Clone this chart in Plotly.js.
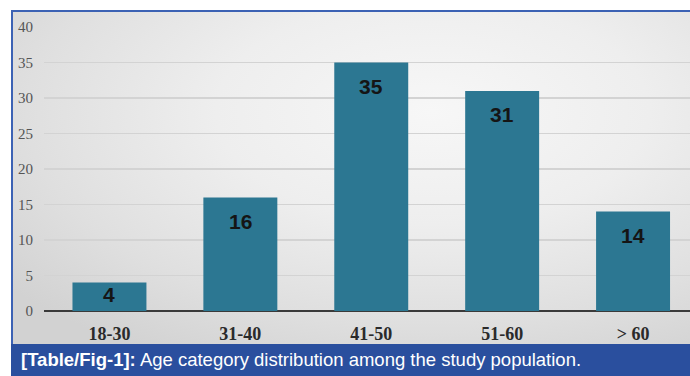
<!DOCTYPE html>
<html>
<head>
<meta charset="utf-8">
<script src="https://cdn.plot.ly/plotly-3.0.1.min.js"></script>
<style>
  html, body { margin: 0; padding: 0; width: 690px; height: 376px; overflow: hidden; background: #ffffff; }
  #frame { position: absolute; left: 11px; top: 10px; width: 677px; height: 332px;
    border-left: 2px solid #3c62b4; border-top: 2px solid #3c62b4;
    background: radial-gradient(ellipse 80% 85% at 62% 30%, #f7f7f7 0%, #eeeeee 40%, #dfdfdf 75%, #d2d2d2 100%); }
  #chart { position: absolute; left: 0; top: 0; width: 690px; height: 344px; }
  #caption { position: absolute; left: 11px; top: 344px; width: 679px; height: 32px;
    background: #2a4f9e; color: #ffffff; font-family: "Liberation Sans", Arial, sans-serif;
    font-size: 18.5px; line-height: 32px; padding-left: 10px; box-sizing: border-box; white-space: nowrap; }
  #caption b { font-weight: bold; }
</style>
</head>
<body>
<div id="frame"></div>
<div id="chart"></div>
<div id="caption"><b>[Table/Fig-1]:</b> Age category distribution among the study population.</div>
<script>
const categories = ["18-30", "31-40", "41-50", "51-60", "> 60"];
const counts = [4, 16, 35, 31, 14];
const yTicks = [0, 5, 10, 15, 20, 25, 30, 35, 40];

const pxPerUnit = (311 - 27) / 40;
const annotations = counts.map((v, i) => ({
  x: i, y: v, xref: 'x', yref: 'y', text: String(v), showarrow: false,
  yanchor: 'middle', yshift: -Math.min(24, v * pxPerUnit / 2 - 2),
  font: { family: '"Liberation Sans", Arial, sans-serif', size: 21, color: '#151515', weight: 'bold' }
}));

const trace = {
  type: 'bar', x: categories.map((c, i) => i), y: counts,
  marker: { color: '#2c7792', line: { width: 0 } },
  hoverinfo: 'none'
};

const layout = {
  width: 690, height: 344,
  margin: { l: 44, r: 0, t: 27, b: 33 },
  paper_bgcolor: 'rgba(0,0,0,0)', plot_bgcolor: 'rgba(0,0,0,0)',
  showlegend: false, bargap: 0.435,
  xaxis: {
    range: [-0.5, 4.435], tickmode: 'array', tickvals: categories.map((c, i) => i), ticktext: categories,
    showgrid: false, zeroline: false, showline: false, ticks: '', ticklabelstandoff: 10,
    tickfont: { family: '"Liberation Serif", "Times New Roman", serif', size: 18, color: '#2a2a2a', weight: 'bold' },
    fixedrange: true
  },
  yaxis: {
    range: [0, 40], tickmode: 'array', tickvals: yTicks, ticktext: yTicks.map(String),
    showgrid: true, gridcolor: '#d3d3d3', gridwidth: 1.2,
    zeroline: true, zerolinecolor: '#3a3a3a', zerolinewidth: 2.2,
    showline: false, ticks: '', ticklabelstandoff: 10,
    tickfont: { family: '"Liberation Serif", "Times New Roman", serif', size: 15, color: '#555555' },
    fixedrange: true
  },
  annotations: annotations
};

Plotly.newPlot('chart', [trace], layout, { displayModeBar: false, staticPlot: true });
</script>
</body>
</html>
